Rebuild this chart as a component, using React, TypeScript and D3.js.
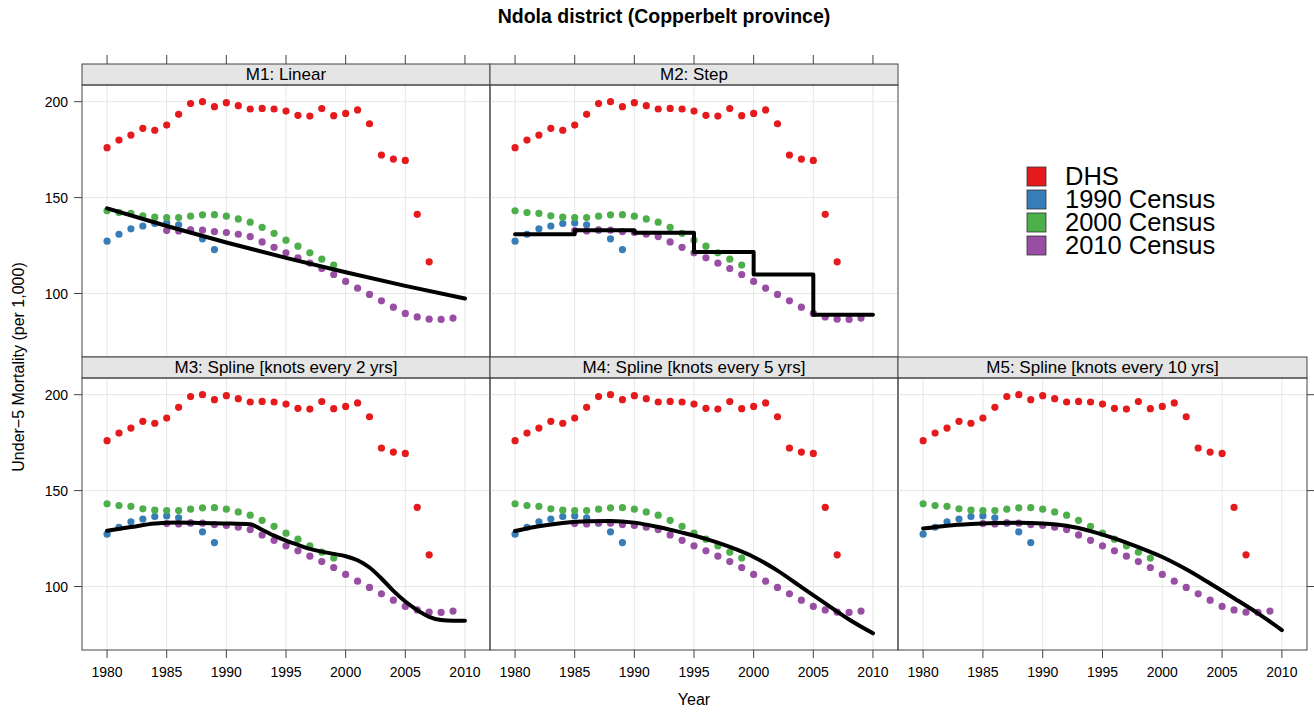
import * as d3 from "d3";

// observed series (under-5 mortality per 1,000)
const dhsYears = d3.range(1980, 2008);
const dhsValues = [176.0, 180.0, 182.6, 186.1, 185.1, 187.8, 193.4, 199.0, 200.0, 197.4,
  199.5, 197.9, 196.2, 196.5, 196.2, 195.1, 192.9, 192.5, 196.4, 192.7,
  193.9, 195.7, 188.5, 172.2, 170.1, 169.4, 141.3, 116.5];

const census1990Years = d3.range(1980, 1990);
const census1990Values = [127.3, 130.9, 133.7, 135.2, 136.5, 136.8, 135.8, 133.0, 128.5, 122.9];

const census2000Years = d3.range(1980, 2000);
const census2000Values = [143.1, 142.2, 141.8, 140.5, 139.8, 139.6, 139.6, 140.3, 141.0, 141.1,
  140.3, 138.9, 137.2, 134.5, 131.4, 127.8, 124.7, 121.2, 117.9, 114.8];

const census2010Years = d3.range(1985, 2010);
const census2010Values = [132.8, 132.6, 133.2, 133.0, 132.3, 131.8, 130.9, 129.7, 126.9, 124.1,
  121.2, 118.6, 115.8, 113.0, 109.9, 106.3, 102.8, 99.5, 96.2, 92.9,
  89.6, 87.8, 86.6, 86.5, 87.2];

// model fits
const linearYears = [1980, 1985, 1990, 1995, 2000, 2005, 2010];
const linearValues = [144.4, 135.2, 126.6, 118.6, 111.1, 104.0, 97.4];

const stepYears = [1980, 1985, 1990, 1995, 2000, 2005, 2010];
const stepValues = [130.9, 133.0, 131.7, 121.7, 109.9, 88.9, 88.9];

const spline2Years = [1980, 1982, 1984, 1985, 1986, 1988, 1990, 1992, 1993, 1994, 1995, 1996, 1997,
  1998, 1999, 2000, 2001, 2002, 2003, 2004, 2005, 2006, 2007, 2008, 2009, 2010];
const spline2Values = [129.1, 131.0, 132.8, 133.3, 133.4, 133.1, 132.9, 132.4, 129.6, 126.5, 123.9,
  121.7, 119.6, 118.2, 117.0, 115.8, 113.7, 109.9, 104.2, 97.7, 92.2, 87.7, 84.2, 82.5, 82.1, 82.1];

const spline5Years = d3.range(1980, 2011, 2);
const spline5Values = [128.9, 131.4, 133.1, 134.0, 134.1, 133.3, 131.0, 128.1, 124.8, 120.6,
  115.4, 108.3, 99.7, 91.2, 82.8, 75.6];

const spline10Years = d3.range(1980, 2011, 2);
const spline10Values = [130.2, 131.7, 132.6, 133.1, 133.3, 132.9, 131.7, 128.9, 125.1, 120.5,
  115.4, 109.0, 101.6, 93.9, 86.0, 77.3];

const seriesNames = ["DHS", "1990 Census", "2000 Census", "2010 Census"];
const seriesColors = ["#E41A1C", "#377EB8", "#4DAF4A", "#984EA3"];

const panelTitles = ["M1: Linear", "M2: Step", "M3: Spline [knots every 2 yrs]",
  "M4: Spline [knots every 5 yrs]", "M5: Spline [knots every 10 yrs]"];

const xTicks = [1980, 1985, 1990, 1995, 2000, 2005, 2010];
const yTicks = [100, 150, 200];

const font = "'Liberation Sans', Arial, Helvetica, sans-serif";

export default function App() {
  const width = 1314;
  const height = 712;
  const colX = [82, 490, 898];
  const colW = 408;
  const stripH = 21;
  const panelH = 272;
  const rowTop = [64, 64 + stripH + panelH];
  const border = "#444";

  const observed = [
    { years: dhsYears, values: dhsValues },
    { years: census1990Years, values: census1990Values },
    { years: census2000Years, values: census2000Values },
    { years: census2010Years, values: census2010Values },
  ];

  const fits = [
    { years: linearYears, values: linearValues, curve: d3.curveMonotoneX },
    { years: stepYears, values: stepValues, curve: d3.curveStepAfter },
    { years: spline2Years, values: spline2Values, curve: d3.curveMonotoneX },
    { years: spline5Years, values: spline5Values, curve: d3.curveMonotoneX },
    { years: spline10Years, values: spline10Values, curve: d3.curveMonotoneX },
  ];

  const panels = [
    { row: 0, col: 0 }, { row: 0, col: 1 },
    { row: 1, col: 0 }, { row: 1, col: 1 }, { row: 1, col: 2 },
  ];

  return (
    <svg width={width} height={height} style={{ display: "block", position: "absolute", left: 0, top: 0 }}
      fontFamily={font}>
      <rect width={width} height={height} fill="white" />
      <text x={664} y={23} textAnchor="middle" fontSize={19.5} fontWeight="bold">
        Ndola district (Copperbelt province)
      </text>
      <text transform={`translate(24,${rowTop[0] + (650 - rowTop[0]) / 2 + 10}) rotate(-90)`}
        textAnchor="middle" fontSize={16}>Under−5 Mortality (per 1,000)</text>
      <text x={694} y={705} textAnchor="middle" fontSize={16}>Year</text>

      {panels.map((p, i) => {
        const x0 = colX[p.col];
        const w = p.col === 2 ? colW + 1 : colW;
        const sTop = rowTop[p.row];
        const pTop = sTop + stripH;
        const pBot = pTop + panelH;
        const x = d3.scaleLinear().domain([1977.9, 2012.1]).range([x0, x0 + w]);
        const y = d3.scaleLinear().domain([66.9, 208.7]).range([pBot, pTop]);
        const fit = fits[i];
        const line = d3.line<number>()
          .x((_, k) => x(fit.years[k]))
          .y((v) => y(v))
          .curve(fit.curve);
        return (
          <g key={i}>
            {/* grid */}
            {xTicks.map((t) => (
              <line key={"gx" + t} x1={x(t)} x2={x(t)} y1={pTop} y2={pBot} stroke="#e6e6e6" strokeWidth={1} />
            ))}
            {yTicks.map((t) => (
              <line key={"gy" + t} x1={x0} x2={x0 + w} y1={y(t)} y2={y(t)} stroke="#e6e6e6" strokeWidth={1} />
            ))}
            {/* strip */}
            <rect x={x0} y={sTop} width={w} height={stripH} fill="#e5e5e5" stroke={border} strokeWidth={1} />
            <text x={x0 + w / 2} y={sTop + 16} textAnchor="middle" fontSize={17}>{panelTitles[i]}</text>
            {/* points */}
            {observed.map((s, si) => (
              <g key={si} fill={seriesColors[si]}>
                {s.values.map((v, k) => (
                  <circle key={k} cx={x(s.years[k])} cy={y(v)} r={3.6} />
                ))}
              </g>
            ))}
            <path d={line(fit.values) || ""} fill="none" stroke="black" strokeWidth={4}
              strokeLinejoin="round" strokeLinecap="round" />
            <rect x={x0} y={pTop} width={w} height={panelH} fill="none" stroke={border} strokeWidth={1} />

            {/* left axis */}
            {p.col === 0 && yTicks.map((t) => (
              <g key={"ly" + t}>
                <line x1={x0 - 8} x2={x0} y1={y(t)} y2={y(t)} stroke={border} />
                <text x={x0 - 14} y={y(t) + 5} textAnchor="end" fontSize={14}>{t}</text>
              </g>
            ))}
            {/* right axis on last column */}
            {p.col === 2 && yTicks.map((t) => (
              <line key={"ry" + t} x1={x0 + w} x2={x0 + w + 8} y1={y(t)} y2={y(t)} stroke={border} />
            ))}
            {/* top ticks */}
            {p.row === 0 && xTicks.map((t) => (
              <line key={"tx" + t} x1={x(t)} x2={x(t)} y1={sTop - 9} y2={sTop} stroke={border} />
            ))}
            {/* bottom axis */}
            {p.row === 1 && xTicks.map((t) => (
              <g key={"bx" + t}>
                <line x1={x(t)} x2={x(t)} y1={pBot} y2={pBot + 8} stroke={border} />
                <text x={x(t)} y={pBot + 27} textAnchor="middle" fontSize={14}>{t}</text>
              </g>
            ))}
          </g>
        );
      })}

      {/* legend */}
      {seriesNames.map((name, i) => (
        <g key={name} transform={`translate(1027,${167 + i * 23})`}>
          <rect width={19} height={19} fill={seriesColors[i]} stroke="#333" strokeWidth={0.8} />
          <text x={38} y={18} fontSize={25.5}>{name}</text>
        </g>
      ))}
    </svg>
  );
}
